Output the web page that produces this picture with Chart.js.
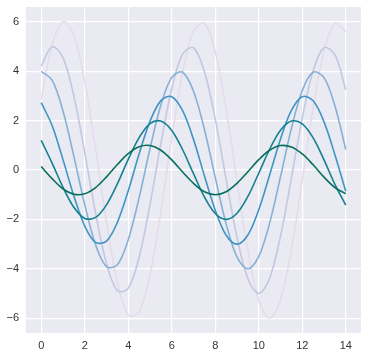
<!DOCTYPE html>
<html>
<head>
<meta charset="utf-8">
<script src="https://cdn.jsdelivr.net/npm/chart.js@4/dist/chart.umd.min.js"></script>
<style>
  html, body { margin: 0; padding: 0; background: #fff; }
  #wrap { width: 367px; height: 356px; }
</style>
</head>
<body>
<div id="wrap"><canvas id="sinChart"></canvas></div>
<script>
// x positions, read every 0.5
const xs = [0, 0.5, 1, 1.5, 2, 2.5, 3, 3.5, 4, 4.5, 5, 5.5, 6, 6.5, 7, 7.5, 8, 8.5, 9, 9.5,
  10, 10.5, 11, 11.5, 12, 12.5, 13, 13.5, 14];

const wave6 = [2.88, 5.05, 5.99, 5.46, 3.59, 0.85, -2.10, -4.54, -5.87, -5.75, -4.23, -1.68, 1.29, 3.94, 5.63,
  5.94, 4.79, 2.47, -0.45, -3.26, -5.28, -6.00, -5.25, -3.22, -0.40, 2.52, 4.82, 5.94, 5.61];
const wave5 = [4.21, 4.99, 4.55, 2.99, 0.71, -1.75, -3.78, -4.89, -4.79, -3.53, -1.40, 1.08, 3.29, 4.69, 4.95,
  3.99, 2.06, -0.38, -2.72, -4.40, -5.00, -4.38, -2.68, -0.33, 2.10, 4.02, 4.95, 4.67, 3.25];
const wave4 = [3.99, 3.64, 2.39, 0.56, -1.40, -3.03, -3.91, -3.84, -2.82, -1.12, 0.86, 2.63, 3.75, 3.96, 3.19,
  1.65, -0.30, -2.18, -3.52, -4.00, -3.50, -2.15, -0.27, 1.68, 3.22, 3.96, 3.74, 2.60, 0.83];
const wave3 = [2.73, 1.80, 0.42, -1.05, -2.27, -2.93, -2.88, -2.12, -0.84, 0.65, 1.97, 2.81, 2.97, 2.40, 1.24,
  -0.23, -1.63, -2.64, -3.00, -2.63, -1.61, -0.20, 1.26, 2.41, 2.97, 2.80, 1.95, 0.62, -0.86];
const wave2 = [1.20, 0.28, -0.70, -1.51, -1.96, -1.92, -1.41, -0.56, 0.43, 1.31, 1.88, 1.98, 1.60, 0.82, -0.15,
  -1.09, -1.76, -2.00, -1.75, -1.07, -0.13, 0.84, 1.61, 1.98, 1.87, 1.30, 0.41, -0.58, -1.42];
const wave1 = [0.14, -0.35, -0.76, -0.98, -0.96, -0.71, -0.28, 0.22, 0.66, 0.94, 0.99, 0.80, 0.41, -0.08, -0.54,
  -0.88, -1.00, -0.88, -0.54, -0.07, 0.42, 0.80, 0.99, 0.93, 0.65, 0.21, -0.29, -0.71, -0.96];

const xTicks = [0, 2, 4, 6, 8, 10, 12, 14];
const yTicks = [-6, -4, -2, 0, 2, 4, 6];

// lightest first, darkest last (drawn on top)
const waves = [wave6, wave5, wave4, wave3, wave2, wave1];
const colors = ['#e6dbeb', '#c4c7e1', '#86b1d6', '#3f95c3', '#13818f', '#06705d'];

const datasets = waves.map((w, i) => ({
  data: w.map((v, j) => ({ x: xs[j], y: v })),
  borderColor: colors[i],
  backgroundColor: colors[i],
  borderWidth: 1.6,
  pointRadius: 0,
  tension: 0.34,
  fill: false,
  order: waves.length - i
}));

const bgPlugin = {
  id: 'plotBg',
  beforeDraw(chart) {
    const a = chart.chartArea;
    const c = chart.ctx;
    c.save();
    c.fillStyle = '#eaeaf2';
    c.fillRect(a.left, a.top, a.right - a.left, a.bottom - a.top);
    c.restore();
  }
};

const fmt = v => (v < 0 ? '\u2212' + Math.abs(v) : String(v));

const ctx = document.getElementById('sinChart').getContext('2d');
new Chart(ctx, {
  type: 'line',
  data: { datasets: datasets },
  plugins: [bgPlugin],
  options: {
    responsive: true,
    maintainAspectRatio: false,
    animation: false,
    layout: { padding: { left: 0, right: 6, top: 7, bottom: 0 } },
    plugins: { legend: { display: false }, tooltip: { enabled: false } },
    scales: {
      x: {
        type: 'linear',
        min: -0.7,
        max: 14.7,
        afterBuildTicks: s => { s.ticks = xTicks.map(v => ({ value: v })); },
        afterFit: s => { s.height = 23; s.paddingLeft = 0; s.paddingRight = 0; },
        grid: { color: '#ffffff', lineWidth: 1.2, drawTicks: false },
        border: { display: false },
        ticks: {
          padding: 6,
          color: '#333333',
          font: { family: 'Liberation Sans', size: 11 },
          maxRotation: 0,
          callback: v => fmt(v)
        }
      },
      y: {
        min: -6.6,
        max: 6.6,
        afterBuildTicks: s => { s.ticks = yTicks.map(v => ({ value: v })); },
        afterFit: s => { s.width = 26; s.paddingTop = 0; s.paddingBottom = 0; },
        grid: { color: '#ffffff', lineWidth: 1.2, drawTicks: false },
        border: { display: false },
        ticks: {
          padding: 7,
          color: '#333333',
          font: { family: 'Liberation Sans', size: 11 },
          callback: v => fmt(v)
        }
      }
    }
  }
});
</script>
</body>
</html>
